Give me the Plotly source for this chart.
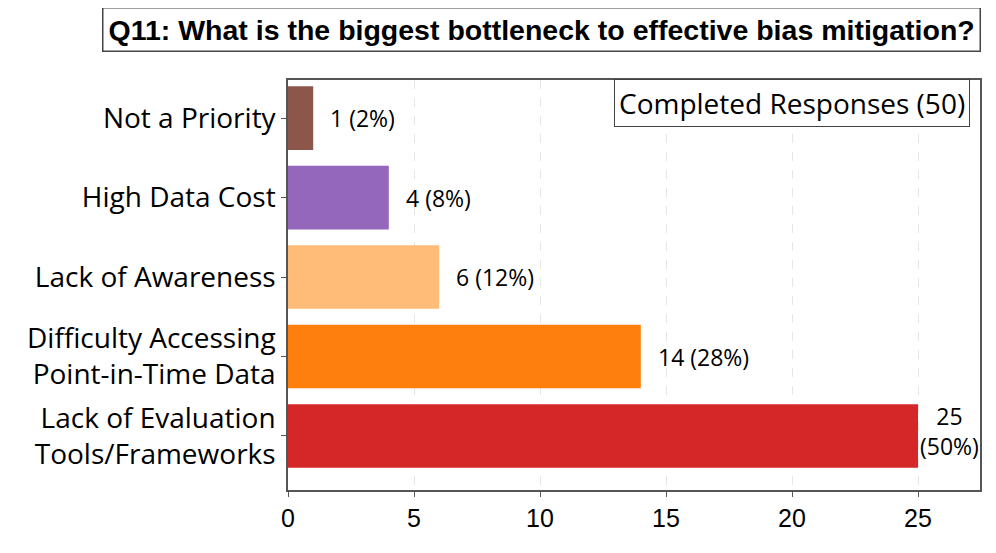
import plotly.graph_objects as go

categories = ["Lack of Evaluation<br>Tools/Frameworks", "Difficulty Accessing<br>Point-in-Time Data",
              "Lack of Awareness", "High Data Cost", "Not a Priority"]
counts = [25, 14, 6, 4, 1]
total = 50
colors = ["#d62728", "#ff7f0e", "#ffbb78", "#9467bd", "#8c564b"]
title_text = "Q11: What is the biggest bottleneck to effective bias mitigation?"
box_text = "Completed Responses (50)"
x_ticks = [0, 5, 10, 15, 20, 25]

fig = go.Figure()
fig.add_trace(go.Bar(
    y=list(range(len(categories))), x=counts, orientation="h",
    marker=dict(color=colors, line=dict(width=0)), width=0.8,
    hoverinfo="skip", showlegend=False,
))

for i, v in enumerate(counts):
    pct = round(100 * v / total)
    if v == max(counts):
        txt = f"{v}<br>({pct}%)"
        xs, ys = 0, 5
    else:
        txt = f"{v} ({pct}%)"
        xs, ys = 15, 0
    fig.add_annotation(x=v, y=i, xref="x", yref="y", text=txt, showarrow=False,
                       xanchor="left", yanchor="middle", xshift=xs, yshift=ys, align="center",
                       font=dict(family="Open Sans, Noto Sans, sans-serif", size=23, color="black"))

fig.add_annotation(xref="paper", yref="paper", x=0.367, y=1.122, text=f"<b>{title_text}</b>",
                   showarrow=False, xanchor="center", yanchor="middle",
                   font=dict(family="Liberation Sans, Arial, sans-serif", size=28.5, color="black"),
                   bordercolor="#444444", borderwidth=1.5, borderpad=5, bgcolor="white")

fig.add_annotation(xref="paper", yref="paper", x=0.9855, y=0.944, text=box_text,
                   showarrow=False, xanchor="right", yanchor="middle",
                   font=dict(family="Open Sans, Noto Sans, sans-serif", size=28, color="black"),
                   bordercolor="#444444", borderwidth=1, borderpad=4, bgcolor="white")

fig.update_layout(
    width=996, height=553,
    margin=dict(l=280, r=24, t=72, b=71),
    plot_bgcolor="white", paper_bgcolor="white",
    xaxis=dict(range=[0, 27.46], tickvals=x_ticks, showgrid=True, gridcolor="#e6e6e6",
               griddash="dash", gridwidth=1, zeroline=False,
               showline=True, linecolor="#555555", linewidth=1.5, mirror=True,
               ticks="outside", ticklen=5, tickcolor="#555555",
               tickfont=dict(family="Liberation Sans Narrow, Liberation Sans, Arial, sans-serif", size=25, color="black")),
    yaxis=dict(range=[-0.68, 4.48], tickvals=list(range(len(categories))), ticktext=categories,
               showgrid=False, zeroline=False,
               showline=True, linecolor="#555555", linewidth=1.5, mirror=True,
               ticks="outside", ticklen=5, tickcolor="#555555",
               tickfont=dict(family="Open Sans, Noto Sans, sans-serif", size=28, color="black")),
)

fig.write_html("out.html")
